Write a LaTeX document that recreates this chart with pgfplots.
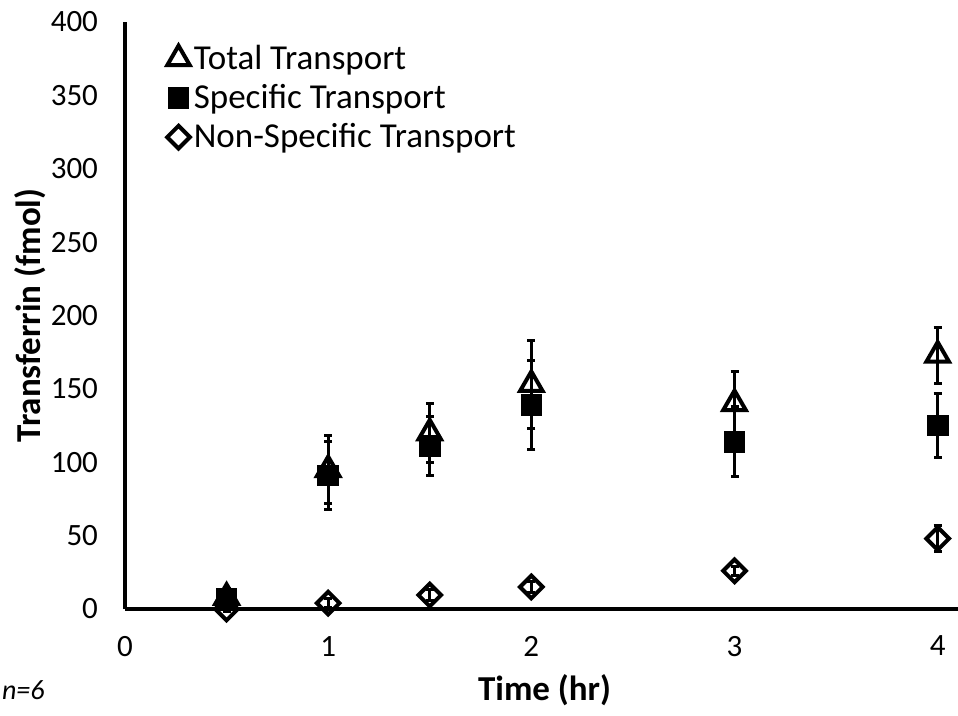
\documentclass[border=0pt]{standalone}
\usepackage{fontspec}
\setmainfont{Carlito}
\usepackage{pgfplots}
\pgfplotsset{compat=1.18}
\newcommand{\tickfont}{\fontsize{15.5}{18}\selectfont}
\begin{document}
\begin{tikzpicture}
\begin{axis}[
  scale only axis, width=416.5pt, height=293.5pt,
  xmin=0, xmax=4.1, ymin=0, ymax=400,
  axis x line*=bottom, axis y line*=left,
  axis line style={line width=2pt},
  clip=false,
  xtick={0,1,2,3,4},
  ytick={0,50,100,150,200,250,300,350,400},
  xticklabels={0,1,2,3,4},
  yticklabels={0,50,100,150,200,250,300,350,400},
  major tick length=0pt,
  yticklabel style={font=\tickfont, xshift=-10pt},
  xticklabel style={font=\tickfont, yshift=-10pt},
  xlabel={Time (hr)}, ylabel={Transferrin (fmol)},
  label style={font=\fontsize{17.5}{20}\selectfont\bfseries},
  xlabel style={at={(axis cs:2.065,0)}, anchor=center, yshift=-40.5pt},
  ylabel style={at={(axis description cs:-0.114,0.5)}, anchor=center},
  legend style={at={(axis description cs:0.043,0.975)}, anchor=north west, draw=none, fill=none,
    font=\fontsize{17.5}{20}\selectfont, row sep=2pt},
  legend cell align=left,
  error bars/error bar style={line width=1.5pt, black},
  error bars/error mark options={rotate=90, line width=1.5pt, mark size=2pt, black},
]
\addplot[only marks, mark=triangle, mark size=6.5pt, mark options={line width=2pt, black, fill=white},
  error bars/.cd, y dir=both, y explicit]
  coordinates {(0.5,8) +- (0,6) (1,95) +- (0,23) (1.5,120) +- (0,20) (2,153) +- (0,30) (3,140) +- (0,22) (4,173) +- (0,19)};
\addlegendentry{Total Transport}
\addplot[only marks, mark=square*, mark size=5pt, mark options={line width=0.8pt, black, fill=black},
  error bars/.cd, y dir=both, y explicit]
  coordinates {(0.5,7) +- (0,6) (1,91) +- (0,23) (1.5,111) +- (0,20) (2,139) +- (0,30) (3,114) +- (0,24) (4,125) +- (0,22)};
\addlegendentry{Specific Transport}
\addplot[only marks, mark=square, mark size=4pt, mark options={rotate=45, line width=2pt, black, fill=white},
  error bars/.cd, y dir=both, y explicit]
  coordinates {(0.5,0) +- (0,2) (1,4) +- (0,3) (1.5,9.5) +- (0,4) (2,15) +- (0,4) (3,26) +- (0,3) (4,48) +- (0,9)};
\addlegendentry{Non-Specific Transport}
\end{axis}
\node[font=\fontsize{14}{16}\selectfont\itshape, anchor=west] at ([shift={(-65pt,-40.5pt)}]current axis.south west) {n=6};
\pgfresetboundingbox
\path[use as bounding box] ([shift={(-62.5pt,-53pt)}]current axis.south west) rectangle ([shift={(0pt,11pt)}]current axis.north east);
\end{tikzpicture}
\end{document}
